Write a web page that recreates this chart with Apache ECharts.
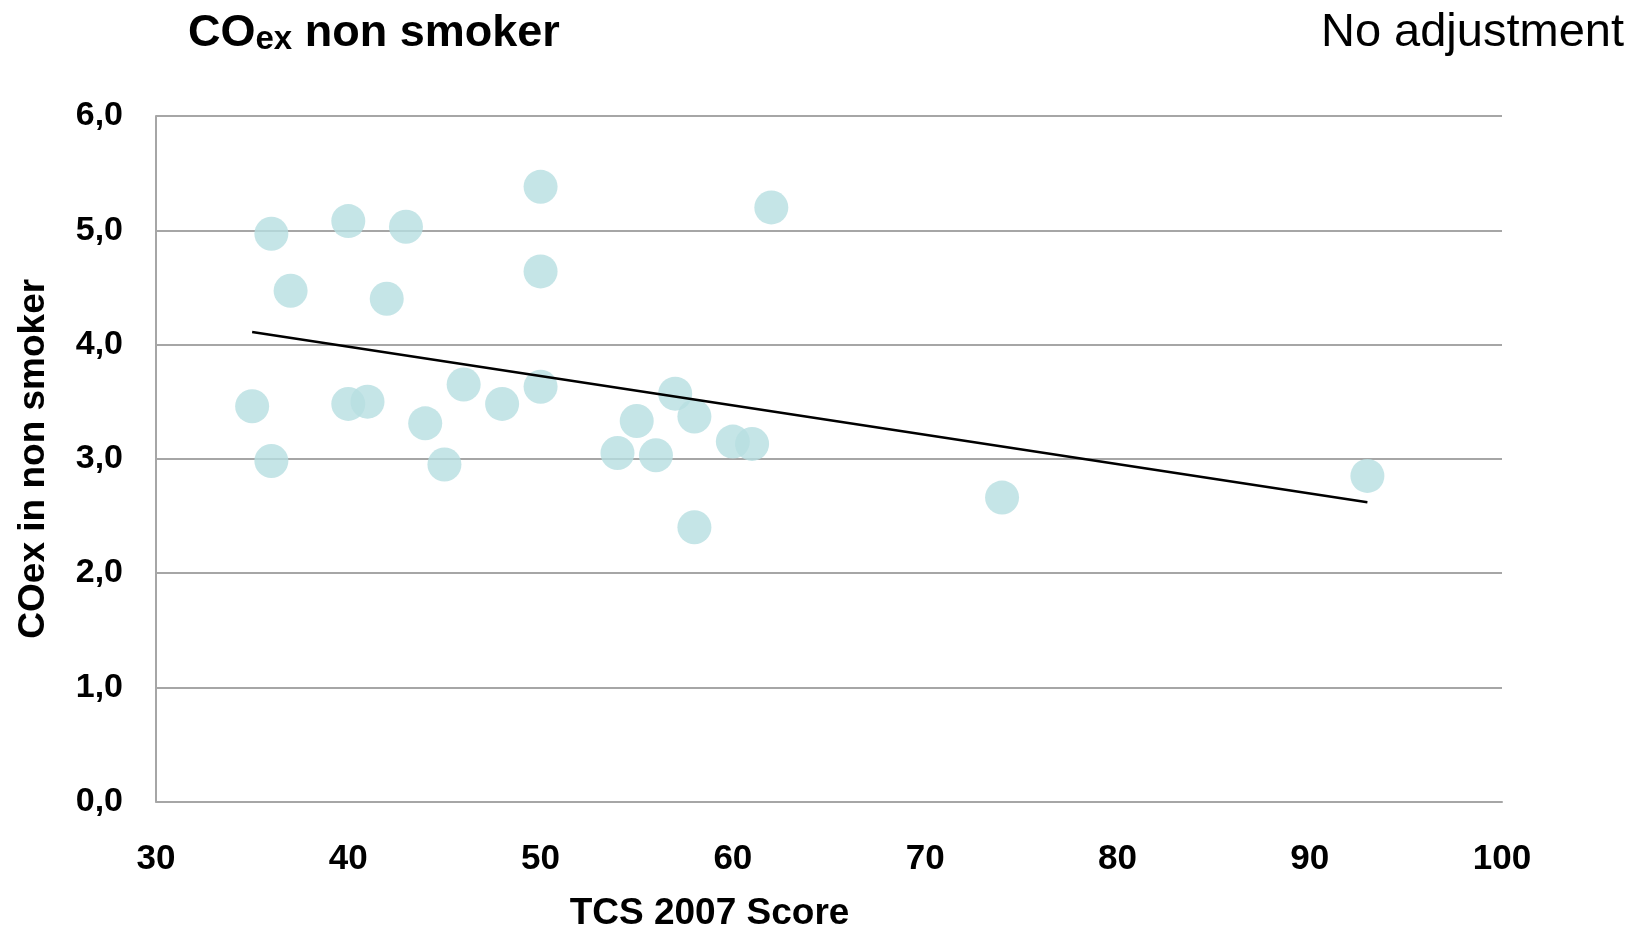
<!DOCTYPE html>
<html>
<head>
<meta charset="utf-8">
<script src="https://cdn.jsdelivr.net/npm/echarts@6/dist/echarts.min.js"></script>
<style>
html,body{margin:0;padding:0;background:#fff;}
#chart{width:1641px;height:930px;}
</style>
</head>
<body>
<div id="chart"></div>
<script>
// TCS 2007 score (x) and COex in non smoker (y)
const tcsScores = [35, 36, 36, 37, 40, 40, 41, 42, 43, 44, 45, 46, 48, 50, 50, 50, 54, 55, 56, 57, 58, 58, 60, 61, 62, 74, 93];
const coexValues = [3.46, 2.98, 4.97, 4.47, 5.08, 3.48, 3.50, 4.40, 5.03, 3.31, 2.95, 3.65, 3.48, 5.38, 4.64, 3.63, 3.05, 3.33, 3.03, 3.57, 3.37, 2.40, 3.15, 3.13, 5.20, 2.66, 2.85];
// linear trend line endpoints
const trendX = [35, 93];
const trendY = [4.11, 2.62];

const titleMain = 'CO';
const titleSub = 'ex';
const titleRest = ' non smoker';
const subtitleText = 'No adjustment';
const xAxisName = 'TCS 2007 Score';
const yAxisName = 'COex in non smoker';

const font = '"Liberation Sans", Arial, Helvetica, sans-serif';
const scatterData = tcsScores.map((x, i) => [x, coexValues[i]]);
const trendData = trendX.map((x, i) => [x, trendY[i]]);

const chart = echarts.init(document.getElementById('chart'));
chart.setOption({
  backgroundColor: '#ffffff',
  animation: false,
  title: [
    {
      text: '{a|' + titleMain + '}{b|' + titleSub + '}{a|' + titleRest + '}',
      left: 188, top: 11, padding: 0,
      textStyle: {
        rich: {
          a: {fontFamily: font, fontWeight: 'bold', fontSize: 45, color: '#000', lineHeight: 45, verticalAlign: 'bottom'},
          b: {fontFamily: font, fontWeight: 'bold', fontSize: 33, color: '#000', lineHeight: 45, verticalAlign: 'bottom'}
        }
      }
    },
    {
      text: subtitleText,
      right: 17, top: 10, padding: 0,
      textStyle: {fontFamily: font, fontWeight: 'normal', fontSize: 47, color: '#000', lineHeight: 47}
    }
  ],
  grid: {left: 156, right: 139, top: 116, bottom: 128.5, containLabel: false, outerBoundsMode: 'none'},
  xAxis: {
    type: 'value', min: 30, max: 100, interval: 10,
    name: xAxisName, nameLocation: 'middle', nameGap: 94,
    nameTextStyle: {fontFamily: font, fontWeight: 'bold', fontSize: 37, color: '#000', padding: [0, 239, 0, 0], verticalAlign: 'top'},
    axisLine: {show: true, lineStyle: {color: '#a6a6a6', width: 2}},
    axisTick: {show: false},
    splitLine: {show: false},
    axisLabel: {fontFamily: font, fontWeight: 'bold', fontSize: 35, color: '#000', margin: 40}
  },
  yAxis: {
    type: 'value', min: 0, max: 6, interval: 1,
    name: yAxisName, nameLocation: 'middle', nameGap: 104, nameRotate: 90,
    nameTextStyle: {fontFamily: font, fontWeight: 'bold', fontSize: 37, color: '#000'},
    axisLine: {show: true, lineStyle: {color: '#a6a6a6', width: 2}},
    axisTick: {show: false},
    splitLine: {show: true, lineStyle: {color: '#a6a6a6', width: 2}},
    axisLabel: {fontFamily: font, fontWeight: 'bold', fontSize: 34, color: '#000', margin: 33,
      formatter: v => v.toFixed(1).replace('.', ',')}
  },
  series: [
    {
      type: 'scatter', data: scatterData, symbol: 'circle', symbolSize: 34,
      itemStyle: {color: '#b7dfe1', opacity: 0.8}, z: 2
    },
    {
      type: 'line', data: trendData, showSymbol: false, symbol: 'none',
      lineStyle: {color: '#000', width: 2.5}, z: 3, silent: true
    }
  ]
});
</script>
</body>
</html>
